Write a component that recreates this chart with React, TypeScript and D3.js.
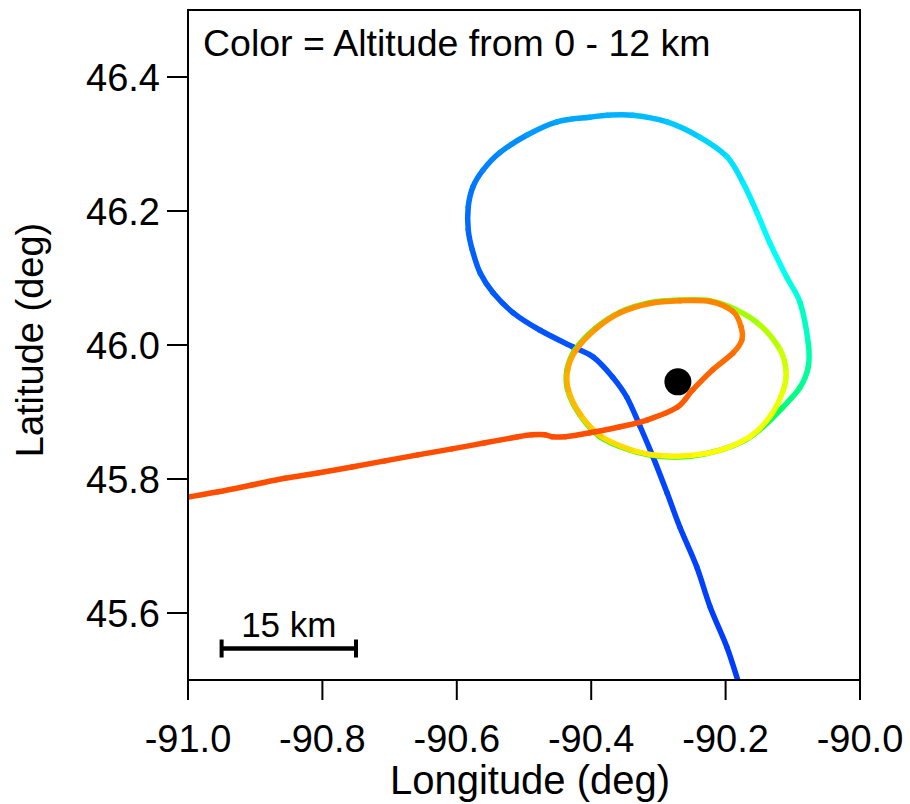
import React from "react";
import * as d3 from "d3";

// Canvas and plot frame
const W = 910;
const H = 804;
const PLOT = { left: 188, right: 860, top: 10, bottom: 680 };

// Axes
const lonDomain = [-91, -90];
const latDomain = [45.5, 46.5];
const lonTicks = [-91, -90.8, -90.6, -90.4, -90.2, -90];
const latTicks = [45.6, 45.8, 46.0, 46.2, 46.4];
const xLabel = "Longitude (deg)";
const yLabel = "Latitude (deg)";
const titleText = "Color = Altitude from 0 - 12 km";

// Altitude colour range (km)
const altRange = [0, 12];

// Flight track: longitude, latitude (deg) and altitude (km)
const trackLon = [
  -90.182, -90.198, -90.223, -90.243, -90.268, -90.287, -90.308, -90.327, -90.347, -90.368,
  -90.397, -90.427, -90.476, -90.516, -90.546, -90.565, -90.577, -90.583, -90.583, -90.576,
  -90.561, -90.536, -90.496, -90.451, -90.402, -90.376, -90.338, -90.287, -90.238, -90.198,
  -90.174, -90.153, -90.134, -90.109, -90.089, -90.077, -90.077, -90.089, -90.115, -90.144,
  -90.171, -90.208, -90.253, -90.298, -90.342, -90.387, -90.417, -90.435, -90.436, -90.424,
  -90.394, -90.357, -90.313, -90.268, -90.223, -90.183, -90.149, -90.119, -90.110, -90.115,
  -90.134, -90.164, -90.208, -90.253, -90.298, -90.342, -90.386, -90.416, -90.434, -90.435,
  -90.423, -90.393, -90.357, -90.313, -90.268, -90.223, -90.189, -90.177, -90.176, -90.189,
  -90.219, -90.249, -90.272, -90.317, -90.357, -90.402, -90.439, -90.458, -90.469, -90.488,
  -90.509, -90.558, -90.607, -90.658, -90.707, -90.756, -90.807, -90.856, -90.905, -90.955,
  -91.0,
];
const trackLat = [
  45.5, 45.549, 45.609, 45.669, 45.728, 45.779, 45.833, 45.878, 45.922, 45.952,
  45.982, 45.997, 46.022, 46.048, 46.078, 46.107, 46.142, 46.172, 46.206, 46.236,
  46.261, 46.287, 46.313, 46.333, 46.34, 46.343, 46.343, 46.333, 46.31, 46.281,
  46.242, 46.197, 46.152, 46.101, 46.063, 46.003, 45.967, 45.937, 45.907, 45.878,
  45.858, 45.843, 45.834, 45.834, 45.843, 45.863, 45.896, 45.933, 45.963, 45.993,
  46.025, 46.049, 46.063, 46.067, 46.066, 46.052, 46.03, 45.993, 45.96, 45.93,
  45.893, 45.863, 45.843, 45.835, 45.835, 45.844, 45.864, 45.896, 45.933, 45.963,
  45.992, 46.024, 46.048, 46.062, 46.066, 46.065, 46.05, 46.027, 46.007, 45.988,
  45.963, 45.933, 45.907, 45.888, 45.878, 45.869, 45.863, 45.863, 45.866, 45.866,
  45.863, 45.854, 45.845, 45.836, 45.827, 45.818, 45.809, 45.801, 45.791, 45.781,
  45.773,
];
const trackAlt = [
  0.7, 0.7, 0.75, 0.75, 0.8, 0.8, 0.85, 0.85, 0.9, 0.9,
  0.95, 0.95, 1.0, 1.0, 1.05, 1.1, 1.15, 1.2, 1.3, 1.4,
  1.5, 1.6, 1.75, 1.9, 2.0, 2.05, 2.15, 2.3, 2.45, 2.6,
  2.75, 2.9, 3.0, 3.2, 3.5, 3.9, 4.1, 4.3, 4.6, 4.9,
  5.1, 5.5, 5.8, 6.1, 6.3, 6.5, 6.6, 6.7, 6.8, 6.9,
  7.0, 7.1, 7.2, 7.3, 7.5, 7.8, 8.0, 8.3, 8.5, 8.7,
  8.8, 8.9, 9.0, 9.1, 9.2, 9.35, 9.5, 9.7, 9.9, 10.0,
  10.1, 10.2, 10.3, 10.35, 10.4, 10.45, 10.5, 10.55, 10.6, 10.7,
  10.8, 10.9, 10.95, 11.0, 11.05, 11.1, 11.1, 11.1, 11.1, 11.1,
  11.1, 11.1, 11.1, 11.1, 11.1, 11.1, 11.1, 11.1, 11.1, 11.1,
  11.1,
];

// Ground site marker
const siteLon = -90.271;
const siteLat = 45.945;

// Distance scale bar
const scaleBarLon = [-90.95, -90.75];
const scaleBarLat = 45.547;
const scaleBarLabel = "15 km";

const FONT = "'Liberation Sans', Arial, Helvetica, sans-serif";

const fmt = d3.formatLocale({
  decimal: ".",
  thousands: ",",
  grouping: [3],
  currency: ["$", ""],
  minus: "-",
}).format(".1f");

export default function App() {
  const x = d3.scaleLinear().domain(lonDomain).range([PLOT.left, PLOT.right]);
  const y = d3.scaleLinear().domain(latDomain).range([PLOT.bottom, PLOT.top]);
  const hue = d3.scaleLinear().domain(altRange).range([240, 0]);
  const color = (alt: number) => d3.hsl(hue(alt), 1, 0.5).formatHex();

  const pts = trackLon.map((lon, i) => [x(lon), y(trackLat[i])] as [number, number]);

  // One smooth (Catmull-Rom) piece per pair of consecutive fixes, coloured by altitude
  const segments = [];
  for (let i = 0; i < pts.length - 1; i++) {
    const p0 = pts[Math.max(0, i - 1)];
    const p1 = pts[i];
    const p2 = pts[i + 1];
    const p3 = pts[Math.min(pts.length - 1, i + 2)];
    const c1 = [p1[0] + (p2[0] - p0[0]) / 6, p1[1] + (p2[1] - p0[1]) / 6];
    const c2 = [p2[0] - (p3[0] - p1[0]) / 6, p2[1] - (p3[1] - p1[1]) / 6];
    const d = `M${p1[0]},${p1[1]}C${c1[0]},${c1[1]} ${c2[0]},${c2[1]} ${p2[0]},${p2[1]}`;
    segments.push(
      <path
        key={i}
        d={d}
        fill="none"
        stroke={color((trackAlt[i] + trackAlt[i + 1]) / 2)}
        strokeWidth={5.5}
        strokeLinecap="round"
      />
    );
  }

  const sbX0 = x(scaleBarLon[0]);
  const sbX1 = x(scaleBarLon[1]);
  const sbY = y(scaleBarLat);

  return (
    <svg
      width={W}
      height={H}
      viewBox={`0 0 ${W} ${H}`}
      style={{ position: "absolute", left: 0, top: 0, background: "#fff" }}
      fontFamily={FONT}
    >
      <rect x={0} y={0} width={W} height={H} fill="#fff" />

      <defs>
        <clipPath id="plot-clip">
          <rect x={PLOT.left} y={PLOT.top} width={PLOT.right - PLOT.left} height={PLOT.bottom - PLOT.top} />
        </clipPath>
      </defs>

      <g clipPath="url(#plot-clip)">{segments}</g>

      {/* site marker */}
      <circle cx={x(siteLon)} cy={y(siteLat)} r={13.5} fill="#000" />

      {/* frame */}
      <rect
        x={PLOT.left}
        y={PLOT.top}
        width={PLOT.right - PLOT.left}
        height={PLOT.bottom - PLOT.top}
        fill="none"
        stroke="#000"
        strokeWidth={2}
      />

      {/* y axis */}
      {latTicks.map((t) => (
        <g key={`y${t}`}>
          <line x1={PLOT.left - 21} x2={PLOT.left} y1={y(t)} y2={y(t)} stroke="#000" strokeWidth={2} />
          <text x={PLOT.left - 28} y={y(t)} dy="0.36em" textAnchor="end" fontSize={38} fill="#000">
            {fmt(t)}
          </text>
        </g>
      ))}

      {/* x axis */}
      {lonTicks.map((t) => (
        <g key={`x${t}`}>
          <line x1={x(t)} x2={x(t)} y1={PLOT.bottom} y2={PLOT.bottom + 20} stroke="#000" strokeWidth={2} />
          <text x={x(t)} y={PLOT.bottom + 72} textAnchor="middle" fontSize={38} fill="#000">
            {fmt(t)}
          </text>
        </g>
      ))}

      <text x={(PLOT.left + PLOT.right) / 2 + 6} y={794} textAnchor="middle" fontSize={40} fill="#000">
        {xLabel}
      </text>
      <text
        transform={`translate(43, 340) rotate(-90)`}
        textAnchor="middle"
        fontSize={38}
        fill="#000"
      >
        {yLabel}
      </text>

      <text x={203} y={56} fontSize={37.5} fill="#000">
        {titleText}
      </text>

      {/* scale bar */}
      <line x1={sbX0} x2={sbX1} y1={sbY} y2={sbY} stroke="#000" strokeWidth={4.5} />
      <line x1={sbX0} x2={sbX0} y1={sbY - 9} y2={sbY + 9} stroke="#000" strokeWidth={4} />
      <line x1={sbX1} x2={sbX1} y1={sbY - 9} y2={sbY + 9} stroke="#000" strokeWidth={4} />
      <text x={(sbX0 + sbX1) / 2} y={sbY - 12} textAnchor="middle" fontSize={35} fill="#000">
        {scaleBarLabel}
      </text>
    </svg>
  );
}
